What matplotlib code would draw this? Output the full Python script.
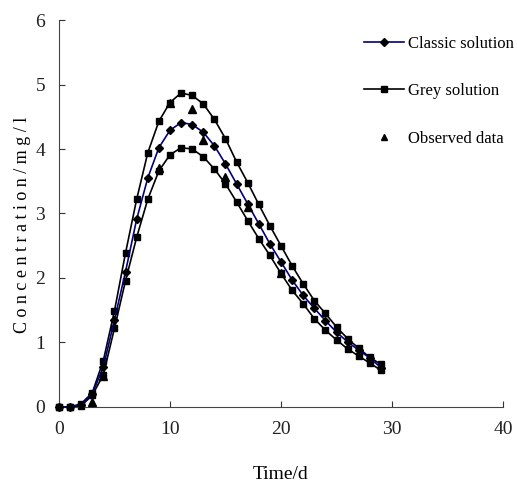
import matplotlib
matplotlib.use("Agg")
import matplotlib.pyplot as plt

days = list(range(30))
classic = [0.0, 0.0, 0.03, 0.20, 0.62, 1.35, 2.10, 2.91, 3.55, 4.02, 4.29, 4.41, 4.38, 4.26,
           4.05, 3.77, 3.46, 3.15, 2.84, 2.53, 2.25, 1.97, 1.73, 1.53, 1.34, 1.16, 1.01, 0.88,
           0.76, 0.61]
grey_upper = [0.0, 0.0, 0.05, 0.22, 0.72, 1.49, 2.39, 3.22, 3.94, 4.43, 4.72, 4.87, 4.83, 4.70,
              4.46, 4.16, 3.80, 3.48, 3.14, 2.81, 2.50, 2.19, 1.91, 1.65, 1.45, 1.24, 1.06, 0.91,
              0.77, 0.66]
grey_lower = [0.0, 0.0, 0.02, 0.18, 0.50, 1.22, 1.96, 2.63, 3.22, 3.66, 3.91, 4.02, 4.00, 3.88,
              3.69, 3.46, 3.18, 2.89, 2.61, 2.35, 2.07, 1.81, 1.60, 1.37, 1.19, 1.04, 0.90, 0.79,
              0.68, 0.57]
obs_days = [3, 4, 9, 10, 12, 13, 15, 17, 20]
observed = [0.07, 0.48, 3.70, 4.72, 4.62, 4.14, 3.57, 3.10, 2.08]

x_ticks = [0, 10, 20, 30, 40]
y_ticks = [0, 1, 2, 3, 4, 5, 6]

plt.rcParams['font.family'] = ['Liberation Serif', 'DejaVu Serif']

fig = plt.figure(figsize=(5.17, 4.86), dpi=100)
ax = fig.add_axes([0.114, 0.1626, 0.859, 0.7962])

ax.plot(days, classic, color='#000080', lw=1.2, marker='D', ms=4.5, mfc='black', mec='black',
        label='Classic solution', zorder=3)
ax.plot(days, grey_upper, color='black', lw=1.2, marker='s', ms=5, mfc='black', mec='black',
        label='Grey solution', zorder=2)
ax.plot(days, grey_lower, color='black', lw=1.2, marker='s', ms=5, mfc='black', mec='black',
        zorder=2)
ax.plot(obs_days, observed, ls='none', marker='^', ms=6, color='black',
        label='Observed data', zorder=4)

ax.set_xlim(0, 40)
ax.set_ylim(0, 6)
ax.set_xticks(x_ticks)
ax.set_yticks(y_ticks)
ax.tick_params(direction='in', length=4, labelsize=14, colors='#333333', labelcolor='#222222')
ax.tick_params(axis='x', pad=10)
ax.tick_params(axis='y', pad=10)
for s in ['top', 'right']:
    ax.spines[s].set_visible(False)
for s in ['left', 'bottom']:
    ax.spines[s].set_color('#444444')
for ln in ax.lines:
    ln.set_clip_on(False)

ax.set_xlabel('Time/d', fontsize=14, labelpad=20)
ax.set_ylabel('C o n c e n t r a t i o n / m g / l', fontsize=13)
ax.yaxis.set_label_coords(-0.063, 0.47)

leg = ax.legend(loc='upper right', bbox_to_anchor=(1.05, 0.99), frameon=False, fontsize=12,
                handlelength=2.4, handletextpad=0.2, labelspacing=1.9, borderaxespad=0.3,
                markerscale=0.8)

fig.savefig('out.png', dpi=100)
